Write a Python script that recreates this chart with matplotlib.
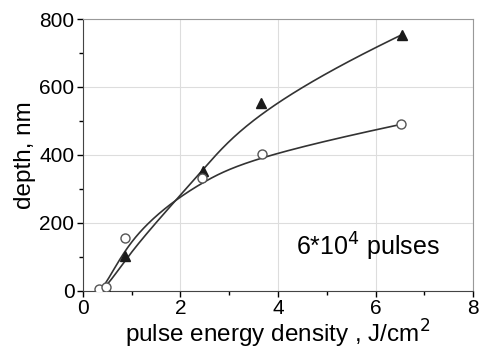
import numpy as np
import matplotlib
matplotlib.use("Agg")
import matplotlib.pyplot as plt
from matplotlib.ticker import MultipleLocator

plt.rcParams['font.family'] = ['Liberation Sans', 'DejaVu Sans']

# data
x_tri = [0.34, 0.48, 0.87, 2.46, 3.66, 6.54]
y_tri = [2, 4, 102, 353, 554, 754]
x_circ = [0.34, 0.48, 0.87, 2.44, 3.67, 6.53]
y_circ = [3, 11, 155, 331, 402, 490]


def bspline(px, py, k=3, n=300):
    # clamped B-spline with the data points as control points (like Origin's B-spline line)
    px = np.asarray(px, float); py = np.asarray(py, float)
    m = len(px)
    knots = np.concatenate([np.zeros(k), np.linspace(0, 1, m - k + 1), np.ones(k)])
    t = np.linspace(0, 1, n)
    t[-1] -= 1e-9
    B = np.zeros((n, len(knots) - 1))
    for i in range(len(knots) - 1):
        B[:, i] = (t >= knots[i]) & (t < knots[i + 1])
    for d in range(1, k + 1):
        Bn = np.zeros((n, len(knots) - 1 - d))
        for i in range(len(knots) - 1 - d):
            a = knots[i + d] - knots[i]
            b = knots[i + d + 1] - knots[i + 1]
            if a > 0:
                Bn[:, i] += (t - knots[i]) / a * B[:, i]
            if b > 0:
                Bn[:, i] += (knots[i + d + 1] - t) / b * B[:, i + 1]
        B = Bn
    return B @ px, B @ py


fig = plt.figure(figsize=(4.79, 3.52), dpi=100)
ax = fig.add_axes([0.1727, 0.1747, 0.815, 0.771])

bx, by = bspline(x_tri, y_tri)
ax.plot(bx, by, color='#333333', lw=1.2, zorder=2)
cx, cy = bspline(x_circ, y_circ)
ax.plot(cx, cy, color='#333333', lw=1.2, zorder=2)

ax.plot(x_tri, y_tri, linestyle='none', marker='^', ms=7, color='#1a1a1a', zorder=3)
ax.plot(x_circ, y_circ, linestyle='none', marker='o', ms=6.5, mfc='white', mec='#555555', mew=1, zorder=4)

ax.set_xlim(0, 8)
ax.set_ylim(0, 800)
ax.xaxis.set_major_locator(MultipleLocator(2))
ax.xaxis.set_minor_locator(MultipleLocator(1))
ax.yaxis.set_major_locator(MultipleLocator(200))
ax.yaxis.set_minor_locator(MultipleLocator(100))
ax.grid(True, which='major', color='#dddddd', lw=0.8)
ax.set_axisbelow(True)
ax.tick_params(which='major', length=4, width=1, labelsize=15, direction='out', pad=2)
ax.tick_params(which='minor', length=3, width=1, direction='out')
for s in ['top', 'right']:
    ax.spines[s].set_color('#999999')
for s in ['left', 'bottom']:
    ax.spines[s].set_color('#444444')

ax.set_xlabel('pulse energy density , J/cm$^2$', fontsize=17.5, labelpad=0)
ax.set_ylabel('depth, nm', fontsize=17.5, labelpad=2)
ax.text(5.85, 130, '6*10$^4$ pulses', fontsize=18, ha='center', va='center')

fig.savefig('out.png', dpi=100)
